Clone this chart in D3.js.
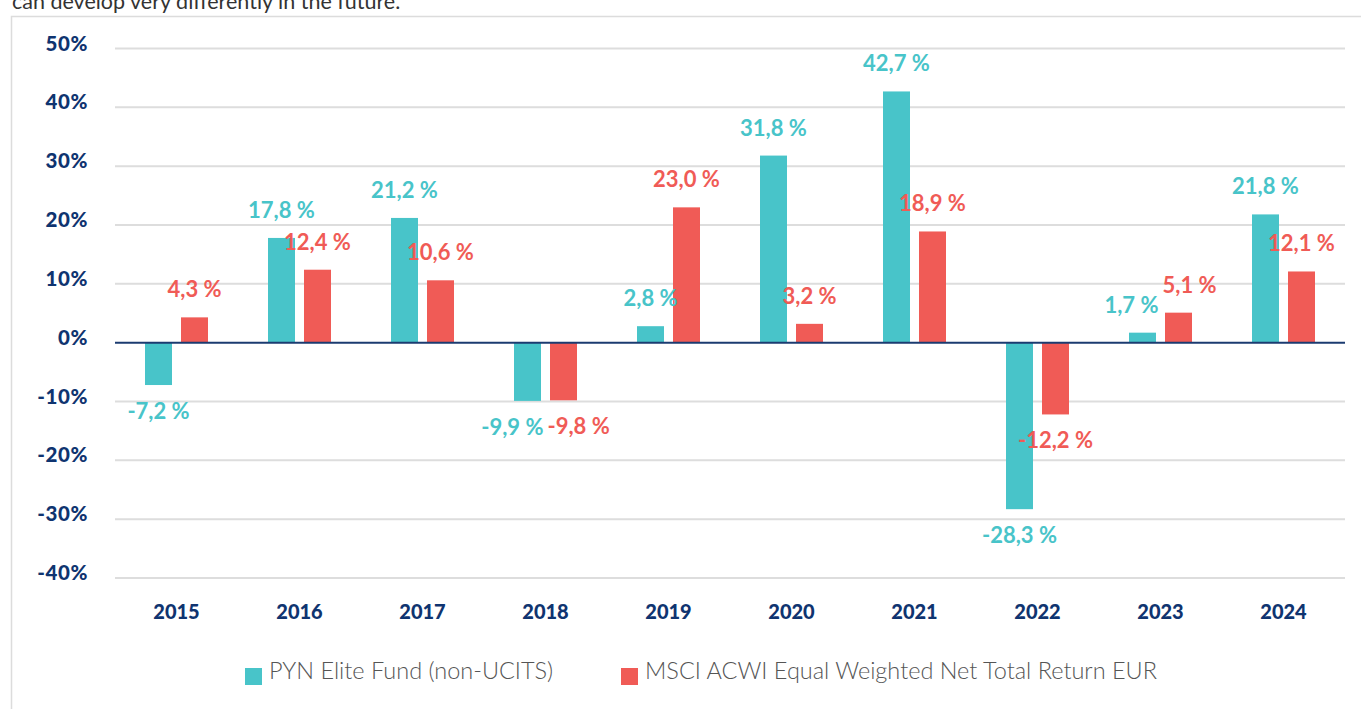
<!DOCTYPE html>
<html>
<head>
<meta charset="utf-8">
<script src="https://cdn.jsdelivr.net/npm/d3@7"></script>
<style>
  body { margin: 0; background: #fff; overflow: hidden; }
  svg { display: block; }
</style>
</head>
<body>
<div id="chart"></div>
<script>
// chart data
const years = ["2015", "2016", "2017", "2018", "2019", "2020", "2021", "2022", "2023", "2024"];
const seriesNames = ["PYN Elite Fund (non-UCITS)", "MSCI ACWI Equal Weighted Net Total Return EUR"];
const pynValues = [-7.2, 17.8, 21.2, -9.9, 2.8, 31.8, 42.7, -28.3, 1.7, 21.8];
const msciValues = [4.3, 12.4, 10.6, -9.8, 23.0, 3.2, 18.9, -12.2, 5.1, 12.1];
const yTicks = [50, 40, 30, 20, 10, 0, -10, -20, -30, -40];
const colors = ["#48c4c9", "#f05b56"];

const width = 1361, height = 709;
const navy = "#0f3470";

const svg = d3.select("#chart").append("svg")
    .attr("width", width)
    .attr("height", height);

// cut-off sentence above the frame
svg.append("text")
    .attr("x", 12)
    .attr("y", 9)
    .style("font-family", "Lato, 'Open Sans', sans-serif")
    .style("font-size", "21.5px")
    .style("fill", "#333")
    .text("can develop very differently in the future.");

// frame
svg.append("path")
    .attr("d", "M11.5," + height + "V16.5H" + width)
    .style("fill", "none")
    .style("stroke", "#dcdcdc")
    .style("stroke-width", 1.5);

const x0 = d3.scaleBand().domain(years).range([115, 1345]);
const x1 = d3.scaleBand().domain([0, 1]).range([-31.5, 31.5]).paddingInner(0.25);
const y = d3.scaleLinear().domain([-40, 50]).range([578, 48.5]);

// gridlines
svg.append("g")
    .selectAll("line")
    .data(yTicks.filter(d => d !== 0))
    .join("line")
    .attr("x1", 115)
    .attr("x2", 1345)
    .attr("y1", d => y(d))
    .attr("y2", d => y(d))
    .style("stroke", "#dddddd")
    .style("stroke-width", 2);

// y axis labels
svg.append("g")
    .selectAll("text")
    .data(yTicks)
    .join("text")
    .attr("x", 88)
    .attr("y", d => y(d) + 2)
    .attr("text-anchor", "end")
    .style("font-family", "Lato, sans-serif")
    .style("font-weight", 900)
    .style("font-size", "20.5px")
    .style("letter-spacing", "0.6px")
    .style("fill", navy)
    .text(d => d + "%");

// bars
const rows = years.map((yr, i) => ({ year: yr, values: [pynValues[i], msciValues[i]] }));

const groups = svg.append("g")
    .selectAll("g")
    .data(rows)
    .join("g")
    .attr("transform", d => "translate(" + (x0(d.year) + x0.bandwidth() / 2) + ",0)");

groups.selectAll("rect")
    .data(d => d.values.map((v, k) => ({ v: v, k: k })))
    .join("rect")
    .attr("x", d => x1(d.k))
    .attr("width", x1.bandwidth())
    .attr("y", d => y(Math.max(0, d.v)))
    .attr("height", d => Math.abs(y(d.v) - y(0)))
    .style("fill", d => colors[d.k]);

// zero line
svg.append("line")
    .attr("x1", 115)
    .attr("x2", 1345)
    .attr("y1", y(0))
    .attr("y2", y(0))
    .style("stroke", "#1b3b70")
    .style("stroke-width", 2);

// value labels
const fmt = v => d3.format(".1f")(v).replace(".", ",").replace("\u2212", "-") + " %";

groups.selectAll("text.val")
    .data(d => d.values.map((v, k) => ({ v: v, k: k })))
    .join("text")
    .attr("class", "val")
    .attr("x", d => x1(d.k) + x1.bandwidth() / 2)
    .attr("y", d => d.v >= 0 ? y(d.v) - 20 : y(d.v) + 34)
    .attr("text-anchor", "middle")
    .style("font-family", "Lato, sans-serif")
    .style("font-weight", 700)
    .style("font-size", "22px")
    .style("fill", d => colors[d.k])
    .text(d => fmt(d.v));

// push apart the two labels of a year when they collide
groups.each(function () {
  const labels = d3.select(this).selectAll("text.val").nodes();
  const a = labels[0].getBBox(), b = labels[1].getBBox();
  const overlapY = a.y < b.y + b.height && b.y < a.y + a.height;
  const overlapX = a.x + a.width + 4 - b.x;
  if (overlapY && overlapX > 0) {
    d3.select(labels[0]).attr("x", +labels[0].getAttribute("x") - overlapX / 2);
    d3.select(labels[1]).attr("x", +labels[1].getAttribute("x") + overlapX / 2);
  }
});

// x axis labels
svg.append("g")
    .selectAll("text")
    .data(years)
    .join("text")
    .attr("x", d => x0(d) + x0.bandwidth() / 2)
    .attr("y", 619)
    .attr("text-anchor", "middle")
    .style("font-family", "Lato, sans-serif")
    .style("font-weight", 900)
    .style("font-size", "20px")
    .style("fill", navy)
    .text(d => d);

// legend
const legendX = [245, 621];
const legend = svg.append("g")
    .selectAll("g")
    .data(seriesNames)
    .join("g")
    .attr("transform", (d, i) => "translate(" + legendX[i] + ",668)");

legend.append("rect")
    .attr("width", 17)
    .attr("height", 17)
    .style("fill", (d, i) => colors[i]);

legend.append("text")
    .attr("x", 24)
    .attr("y", 11)
    .style("font-family", "Lato, sans-serif")
    .style("font-weight", 300)
    .style("font-size", "23.5px")
    .style("fill", "#555")
    .text(d => d);
</script>
</body>
</html>
